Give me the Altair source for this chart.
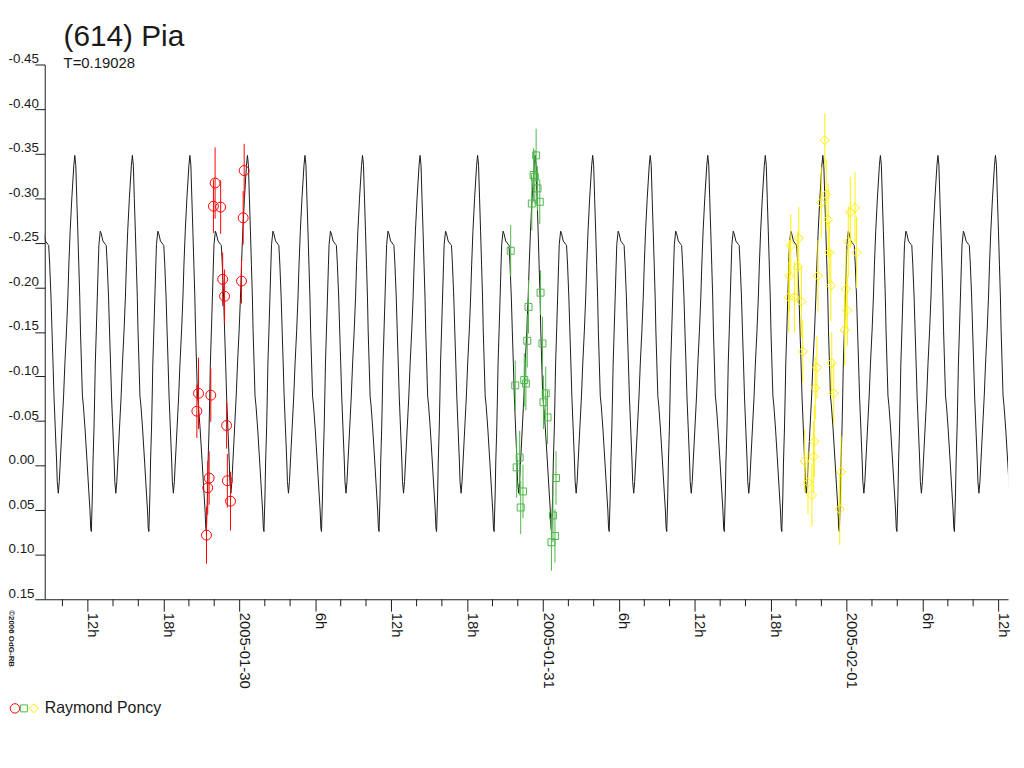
import altair as alt
import pandas as pd

TITLE = "(614) Pia"
SUBTITLE = "T=0.19028"
OBSERVER = "Raymond Poncy"
COPYRIGHT = "©2006 OdG-RB"

# x is hours since 2005-01-29 00:00 UT
x_domain = [8.6, 84.76]
y_domain = [-0.45, 0.15]
major_ticks = [12, 18, 24, 30, 36, 42, 48, 54, 60, 66, 72, 78, 84]
major_labels = ["12h", "18h", "2005-01-30", "6h", "12h", "18h", "2005-01-31",
                "6h", "12h", "18h", "2005-02-01", "6h", "12h"]
minor_ticks = [10, 14, 16, 20, 22, 26, 28, 32, 34, 38, 40, 44, 46, 50, 52,
               56, 58, 62, 64, 68, 70, 74, 76, 80, 82]
y_ticks = [-0.45, -0.40, -0.35, -0.30, -0.25, -0.20, -0.15, -0.10, -0.05,
           0.00, 0.05, 0.10, 0.15]

# model lightcurve: one cycle (phase from main maximum)
curve_first_max = 10.98
curve_period = 4.549
curve_phase = [0.000, 0.017, 0.034, 0.052, 0.069, 0.086, 0.098, 0.115, 0.132,
               0.149, 0.178, 0.213, 0.247, 0.264, 0.276, 0.287, 0.305, 0.316,
               0.333, 0.345, 0.356, 0.374, 0.391, 0.408, 0.419, 0.443, 0.460,
               0.488, 0.534, 0.546, 0.563, 0.586, 0.603, 0.621, 0.638, 0.661,
               0.684, 0.695, 0.713, 0.730, 0.747, 0.776, 0.805, 0.828, 0.856,
               0.879, 0.897, 0.919, 0.948, 0.983]
curve_mag = [-0.348, -0.337, -0.300, -0.263, -0.226, -0.189, -0.152, -0.115,
             -0.078, -0.067, -0.041, -0.004, 0.033, 0.051, 0.070, 0.074,
             0.033, -0.004, -0.041, -0.078, -0.115, -0.152, -0.189, -0.226,
             -0.248, -0.263, -0.260, -0.252, -0.248, -0.247, -0.226, -0.189,
             -0.152, -0.115, -0.078, -0.041, -0.004, 0.018, 0.031, 0.018,
             -0.004, -0.041, -0.078, -0.115, -0.152, -0.189, -0.226, -0.263,
             -0.300, -0.337]

# session 1 (red circles)
s1_t = [22.07, 21.94, 22.51, 24.37, 24.29, 22.67, 22.82, 24.16, 20.76, 20.63,
        21.73, 22.98, 21.60, 21.49, 23.04, 23.29, 21.39]
s1_m = [-0.317, -0.291, -0.290, -0.331, -0.278, -0.209, -0.190, -0.207, -0.081,
        -0.061, -0.079, -0.045, 0.014, 0.025, 0.017, 0.040, 0.078]
s1_e = [0.040, 0.030, 0.030, 0.030, 0.030, 0.030, 0.030, 0.025, 0.040, 0.030,
        0.030, 0.026, 0.030, 0.030, 0.030, 0.033, 0.032]

# session 2 (green squares)
s2_t = [47.45, 47.25, 47.35, 47.56, 47.11, 47.74, 45.44, 47.80, 46.85, 46.75,
        47.95, 45.80, 46.51, 46.64, 48.21, 48.03, 48.35, 46.15, 45.91, 46.41,
        46.23, 49.02, 48.78, 48.94, 48.66]
s2_m = [-0.348, -0.326, -0.324, -0.311, -0.294, -0.296, -0.241, -0.194, -0.178,
        -0.140, -0.137, -0.090, -0.096, -0.092, -0.081, -0.071, -0.054, -0.009,
        0.002, 0.029, 0.047, 0.014, 0.056, 0.079, 0.086]
s2_e = [0.030, 0.030, 0.030, 0.025, 0.030, 0.025, 0.029, 0.025, 0.030, 0.030,
        0.030, 0.028, 0.030, 0.030, 0.030, 0.030, 0.030, 0.030, 0.034, 0.030,
        0.030, 0.030, 0.030, 0.030, 0.032]

# session 3 (yellow diamonds)
s3_t = [70.27, 70.38, 69.99, 70.54, 72.66, 72.29, 67.58, 68.21, 72.13, 72.78,
        70.62, 67.48, 68.13, 69.73, 70.75, 71.95, 67.43, 67.87, 68.42, 72.05,
        71.84, 68.53, 69.65, 70.82, 69.52, 70.98, 69.44, 69.39, 68.68, 68.94,
        69.25, 71.56, 71.45]
s3_m = [-0.365, -0.304, -0.295, -0.276, -0.289, -0.284, -0.247, -0.255, -0.251,
        -0.239, -0.239, -0.213, -0.223, -0.213, -0.202, -0.198, -0.189, -0.189,
        -0.184, -0.174, -0.152, -0.128, -0.110, -0.115, -0.087, -0.081, -0.027,
        -0.010, -0.005, 0.019, 0.033, 0.007, 0.049]
s3_e = [0.030, 0.040, 0.040, 0.040, 0.040, 0.040, 0.035, 0.035, 0.040, 0.040,
        0.035, 0.040, 0.040, 0.040, 0.040, 0.045, 0.040, 0.040, 0.040, 0.040,
        0.040, 0.035, 0.035, 0.035, 0.035, 0.035, 0.040, 0.040, 0.035, 0.035,
        0.035, 0.040, 0.040]

RED = "#FF0000"
GREEN = "#4DB848"
YELLOW = "#FFF000"
INK = "#1a1a1a"
FONT = "Liberation Sans"

# ---- tables ----
rows = []
for k in range(-1, 18):
    for p, m in zip(curve_phase, curve_mag):
        t = curve_first_max + (k + p) * curve_period
        if x_domain[0] - 1 <= t <= x_domain[1] + 1:
            rows.append({"t": t, "m": m})
curve_df = pd.DataFrame(rows).sort_values("t")


def sess(t, m, e):
    d = pd.DataFrame({"t": t, "m": m, "e": e})
    d["lo"] = d["m"] - d["e"]
    d["hi"] = d["m"] + d["e"]
    return d


d1 = sess(s1_t, s1_m, s1_e)
d2 = sess(s2_t, s2_m, s2_e)
d3 = sess(s3_t, s3_m, s3_e)

label_expr = "''"
for v, l in reversed(list(zip(major_ticks, major_labels))):
    label_expr = f"datum.value == {v} ? '{l}' : ({label_expr})"

xscale = alt.Scale(domain=x_domain, nice=False, zero=False)
yscale = alt.Scale(domain=y_domain, nice=False, zero=False, reverse=True)

x_axis = alt.Axis(values=major_ticks, labelExpr=label_expr, labelAngle=90,
                  labelAlign="left", labelBaseline="alphabetic", tickSize=12,
                  labelPadding=1, grid=False, title=None, labelFont=FONT,
                  labelFontSize=15, labelColor=INK, labelOverlap=False,
                  labelFlush=False, labelBound=False, domainColor=INK,
                  tickColor=INK, domainWidth=1, tickWidth=1)
y_axis = alt.Axis(values=y_ticks,
                  labelExpr="(datum.value < -0.0001 ? '-' : '') + format(abs(datum.value), '.2f')",
                  tickSize=10, labelPadding=27, labelAlign="left",
                  labelBaseline="alphabetic", labelOffset=-2, grid=False,
                  title=None, labelFont=FONT, labelFontSize=13.5, labelColor=INK,
                  labelOverlap=False, labelFlush=False, labelBound=False,
                  domainColor=INK, tickColor=INK, domainWidth=1, tickWidth=1)

X = lambda f: alt.X(f"{f}:Q", scale=xscale, axis=x_axis)
Y = lambda f: alt.Y(f"{f}:Q", scale=yscale, axis=y_axis)

curve = alt.Chart(curve_df).mark_line(color=INK, strokeWidth=1, clip=True).encode(
    x=X("t"), y=Y("m"),
)

minor = alt.Chart(pd.DataFrame({"t": minor_ticks})).mark_rule(color=INK, strokeWidth=1).encode(
    x=X("t"), y=alt.value(539), y2=alt.value(546),
)


def bars(d, color):
    return alt.Chart(d).mark_rule(color=color, strokeWidth=1).encode(
        x=X("t"), y=Y("lo"), y2="hi:Q",
    )


def pts(d, color, shape, size):
    return alt.Chart(d).mark_point(color=color, shape=shape, size=size,
                                   filled=False, strokeWidth=1, opacity=1).encode(
        x=X("t"), y=Y("m"),
    )


def txt(s, x, y, size, **kw):
    return alt.Chart(pd.DataFrame({"s": [s]})).mark_text(
        align="left", baseline="alphabetic", font=FONT, fontSize=size,
        color=INK, **kw).encode(x=alt.value(x), y=alt.value(y), text="s:N")


def sym(color, shape, size, x, y):
    return alt.Chart(pd.DataFrame({"s": [shape]})).mark_point(
        color=color, shape=shape, size=size, filled=False, strokeWidth=1,
        opacity=1).encode(x=alt.value(x), y=alt.value(y))


chart = alt.layer(
    curve, minor,
    bars(d1, RED), bars(d2, GREEN), bars(d3, YELLOW),
    pts(d1, RED, "circle", 100), pts(d2, GREEN, "square", 49),
    pts(d3, YELLOW, "diamond", 85),
    txt(TITLE, 19, -19, 30),
    txt(SUBTITLE, 19, 4, 15),
    txt(OBSERVER, 0, 654, 16),
    txt(COPYRIGHT, -36, 550, 8, angle=90, fontWeight="bold"),
    sym(RED, "circle", 90, -30, 649),
    sym(GREEN, "square", 49, -21, 649),
    sym(YELLOW, "diamond", 85, -11, 649),
).properties(
    width=971, height=539,
    autosize=alt.AutoSizeParams(type="none"),
    padding={"left": 37, "top": 54, "right": 8, "bottom": 150},
    background="white",
).configure_view(stroke=None)

chart.save("out.html", embed_options={"renderer": "svg", "actions": False})
